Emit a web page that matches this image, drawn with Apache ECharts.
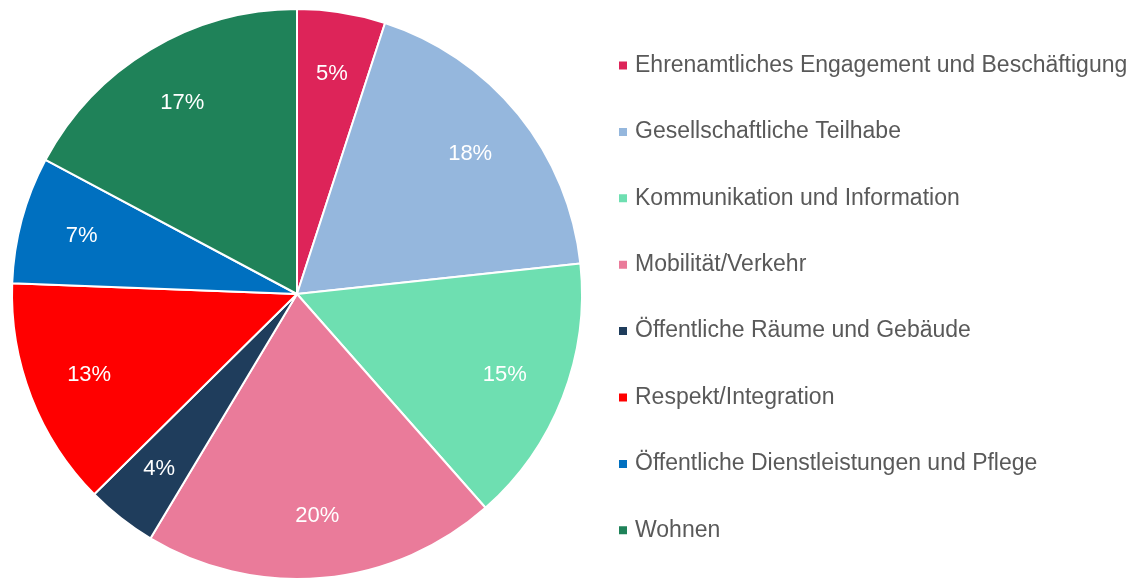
<!DOCTYPE html>
<html><head><meta charset="utf-8">
<script src="https://cdn.jsdelivr.net/npm/echarts@6/dist/echarts.min.js"></script>
<style>html,body{margin:0;padding:0;background:#fff}#c{width:1134px;height:580px}</style>
</head><body><div id="c"></div>
<script>
const categories = ["Ehrenamtliches Engagement und Beschäftigung","Gesellschaftliche Teilhabe","Kommunikation und Information","Mobilität/Verkehr","Öffentliche Räume und Gebäude","Respekt/Integration","Öffentliche Dienstleistungen und Pflege","Wohnen"];
const values = [5.0, 18.3, 15.2, 20.1, 4.0, 13.0, 7.2, 17.2];
const labels = ["5%","18%","15%","20%","4%","13%","7%","17%"];
const colors = ["#DD2459","#95B7DD","#6EDFB1","#EA7B9A","#1F3D5C","#FF0000","#0070C0","#1F8259"];

const chart = echarts.init(document.getElementById('c'), null, {renderer:'canvas'});
const pieData = categories.map((n,i)=>({name:n, value:values[i], itemStyle:{color:colors[i]}}));
const labelData = categories.map((n,i)=>({name:n, value:values[i], label:{formatter:labels[i]}}));
chart.setOption({
  animation:false,
  legend:{
    orient:'vertical', left:612, top:49,
    icon:'rect', itemWidth:10, itemHeight:10, itemGap:43.4,
    textStyle:{fontFamily:'Liberation Sans, Arial, sans-serif', fontSize:23, color:'#595959', lineHeight:23, padding:[0,0,0,2]},
    data:categories, selectedMode:false
  },
  series:[
    {type:'pie', center:[297,294], radius:[0,285], startAngle:90, clockwise:true,
     data:pieData, label:{show:false}, labelLine:{show:false},
     itemStyle:{borderColor:'#fff', borderWidth:2}, silent:true},
    {type:'pie', center:[297,294], radius:[155,285], startAngle:90, clockwise:true,
     data:labelData, itemStyle:{color:'rgba(0,0,0,0)'}, silent:true, legendHoverLink:false,
     label:{show:true, position:'inside', color:'#fff', fontSize:22, fontFamily:'Liberation Sans, Arial, sans-serif'},
     labelLine:{show:false}}
  ]
});
</script></body></html>
